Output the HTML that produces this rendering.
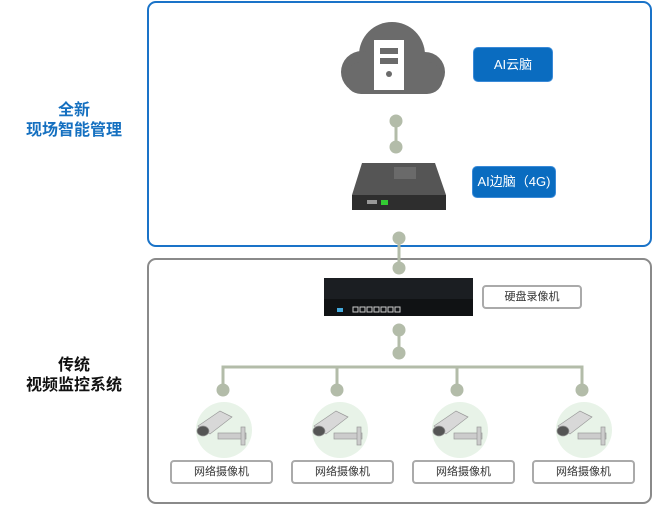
<!DOCTYPE html>
<html><head><meta charset="utf-8"><style>
body{margin:0;width:652px;height:505px;background:#fff;position:relative;overflow:hidden;font-family:"Liberation Sans","Noto Sans CJK SC",sans-serif}
.a{position:absolute}
.lbl{position:absolute;text-align:center;font-weight:bold;font-size:16px;line-height:20px;width:148px;left:0}
.gb{position:absolute;border:2px solid #aaa;border-radius:4px;background:#fff;font-size:11px;color:#333;text-align:center;box-sizing:border-box}
.bb{position:absolute;background:#0a6cc0;border:1px solid #3a8ad8;border-radius:5px;color:#fff;font-size:13px;text-align:center;box-sizing:border-box}
</style></head><body>
<div class="a" style="left:147px;top:1px;width:501px;height:242px;border:2px solid #1a73c8;border-radius:9px"></div>
<div class="a" style="left:147px;top:258px;width:501px;height:242px;border:2px solid #8a8a8a;border-radius:9px"></div>
<div class="lbl" style="top:101px;color:#1570c0">全新<br>现场智能管理</div>
<div class="lbl" style="top:356px;color:#111">传统<br>视频监控系统</div>
<svg class="a" style="left:0;top:0" width="652" height="505">
<g fill="#b3bca9" stroke="#b3bca9">
<line x1="396" y1="121" x2="396" y2="147" stroke-width="3"/>
<circle cx="396" cy="121" r="6"/><circle cx="396" cy="147" r="6"/>
<line x1="399" y1="238" x2="399" y2="268" stroke-width="3"/>
<circle cx="399" cy="238" r="6"/><circle cx="399" cy="268" r="6"/>
<line x1="399" y1="330" x2="399" y2="353" stroke-width="3"/>
<circle cx="399" cy="330" r="6"/><circle cx="399" cy="353" r="6"/>
<polyline points="223,390 223,367 582,367 582,390" fill="none" stroke-width="3"/>
<line x1="337" y1="367" x2="337" y2="390" stroke-width="3"/>
<line x1="457" y1="367" x2="457" y2="390" stroke-width="3"/>
<circle cx="223" cy="390" r="6"/><circle cx="337" cy="390" r="6"/><circle cx="457" cy="390" r="6"/><circle cx="582" cy="390" r="6"/>
</g>
<g fill="#6b6b6b">
<circle cx="392" cy="55" r="33"/><circle cx="362" cy="72" r="21"/><circle cx="425" cy="72" r="20"/>
<rect x="345" y="62" width="98" height="32" rx="16"/>
</g>
<rect x="374" y="40" width="30" height="50" fill="#fff"/>
<rect x="380" y="48" width="18" height="6" fill="#6b6b6b"/><rect x="380" y="58" width="18" height="6" fill="#6b6b6b"/>
<circle cx="389" cy="74" r="3" fill="#6b6b6b"/>
<polygon points="362,163 435,163 446,195 352,195" fill="#555"/>
<polygon points="352,195 446,195 446,210 352,210" fill="#2e2e2e"/>
<rect x="394" y="167" width="22" height="12" fill="#6a6a6a"/>
<rect x="381" y="200" width="7" height="5" fill="#3c3"/>
<rect x="367" y="200" width="10" height="4" fill="#999"/>
<rect x="324" y="278" width="149" height="38" fill="#1b1e22"/>
<rect x="324" y="299" width="149" height="17" fill="#101214"/>
<g fill="none" stroke="#ccc" stroke-width="1">
<rect x="353" y="307" width="5" height="5"/><rect x="360" y="307" width="5" height="5"/><rect x="367" y="307" width="5" height="5"/><rect x="374" y="307" width="5" height="5"/><rect x="381" y="307" width="5" height="5"/><rect x="388" y="307" width="5" height="5"/><rect x="395" y="307" width="5" height="5"/>
</g>
<rect x="337" y="308" width="6" height="4" fill="#4ad"/>
<g>
<circle cx="224" cy="430" r="28" fill="#e8f3e8"/><circle cx="340" cy="430" r="28" fill="#e8f3e8"/><circle cx="460" cy="430" r="28" fill="#e8f3e8"/><circle cx="584" cy="430" r="28" fill="#e8f3e8"/>
</g>
<g id="cam" fill="#d8d8d8" stroke="#999" stroke-width="0.7">
<polygon points="198,426 220,411 232,417 210,434"/>
<rect x="218" y="433" width="28" height="6" fill="#ccc"/>
<rect x="241" y="427" width="4" height="18" fill="#ccc"/>
<ellipse cx="203" cy="431" rx="6" ry="5" fill="#555"/>
</g>
<use href="#cam" x="116"/><use href="#cam" x="236"/><use href="#cam" x="360"/>
</svg>
<div class="bb" style="left:473px;top:47px;width:80px;height:35px;line-height:33px">AI云脑</div>
<div class="bb" style="left:472px;top:166px;width:84px;height:32px;line-height:30px">AI边脑（4G)</div>
<div class="gb" style="left:482px;top:285px;width:100px;height:24px;line-height:20px">硬盘录像机</div>
<div class="gb" style="left:170px;top:460px;width:103px;height:24px;line-height:20px">网络摄像机</div>
<div class="gb" style="left:291px;top:460px;width:103px;height:24px;line-height:20px">网络摄像机</div>
<div class="gb" style="left:412px;top:460px;width:103px;height:24px;line-height:20px">网络摄像机</div>
<div class="gb" style="left:532px;top:460px;width:103px;height:24px;line-height:20px">网络摄像机</div>
</body></html>
